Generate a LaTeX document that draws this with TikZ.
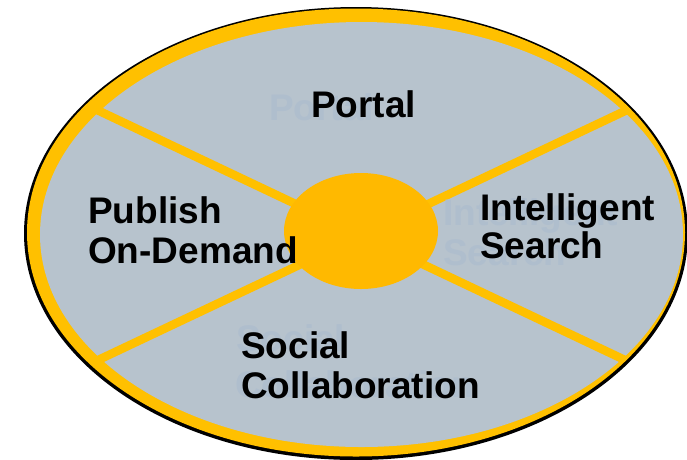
\documentclass[tikz,border=0pt]{standalone}
\usepackage{fontspec}
\setmainfont{Liberation Sans}
\usetikzlibrary{shapes.geometric}
\definecolor{ringyellow}{HTML}{FFC000}
\definecolor{hubyellow}{HTML}{FFB900}
\definecolor{fieldgray}{HTML}{B7C3CD}
\definecolor{ghostblue}{HTML}{AFBECD}
\tikzset{
  label/.style={anchor=base west, inner sep=0pt, font=\fontsize{37}{40}\selectfont\bfseries, text=black},
  ghost/.style={label, text=ghostblue},
  spoke/.style={draw=ringyellow, line width=8.5pt}
}
\begin{document}
\begin{tikzpicture}[x=1pt,y=-1pt]
\useasboundingbox (0,0) rectangle (687,459);
% outer rim
\fill[black] (356,233.5) ellipse [x radius=332, y radius=226.5];
\fill[ringyellow] (356,232.5) ellipse [x radius=329, y radius=224];
\fill[fieldgray] (361.5,234.5) ellipse [x radius=321.5, y radius=212.5];
% spokes
\coordinate (ul) at (57,91);
\coordinate (lr) at (665,379);
\coordinate (ur) at (663,93);
\coordinate (ll) at (58,379);
\begin{scope}
  \clip (356,232.5) ellipse [x radius=327, y radius=222];
  \draw[spoke] (ul) -- (lr);
  \draw[spoke] (ur) -- (ll);
\end{scope}
% faint background labels
\node[ghost] (gportal) at (269,120) {Portal};
\node[ghost] (gintel) at (443,225) {Intelligent};
\node[ghost] (gsearch) at (443,265) {Search};
\node[ghost] (gsocial) at (236,351) {Social};
\node[ghost] (gcollab) at (235,397) {Collaboration};
% hub
\node[fill=hubyellow, ellipse, minimum width=154pt, minimum height=116pt, inner sep=0pt] (hub) at (361,231) {};
% labels
\node[label] (portal) at (311,117) {Portal};
\node[label] (publish) at (88,223) {Publish};
\node[label] (ondemand) at (88,263) {On-Demand};
\node[label] (intel) at (480,220) {Intelligent};
\node[label] (search) at (480,258) {Search};
\node[label] (social) at (241,358) {Social};
\node[label] (collab) at (241,398) {Collaboration};
\end{tikzpicture}
\end{document}
